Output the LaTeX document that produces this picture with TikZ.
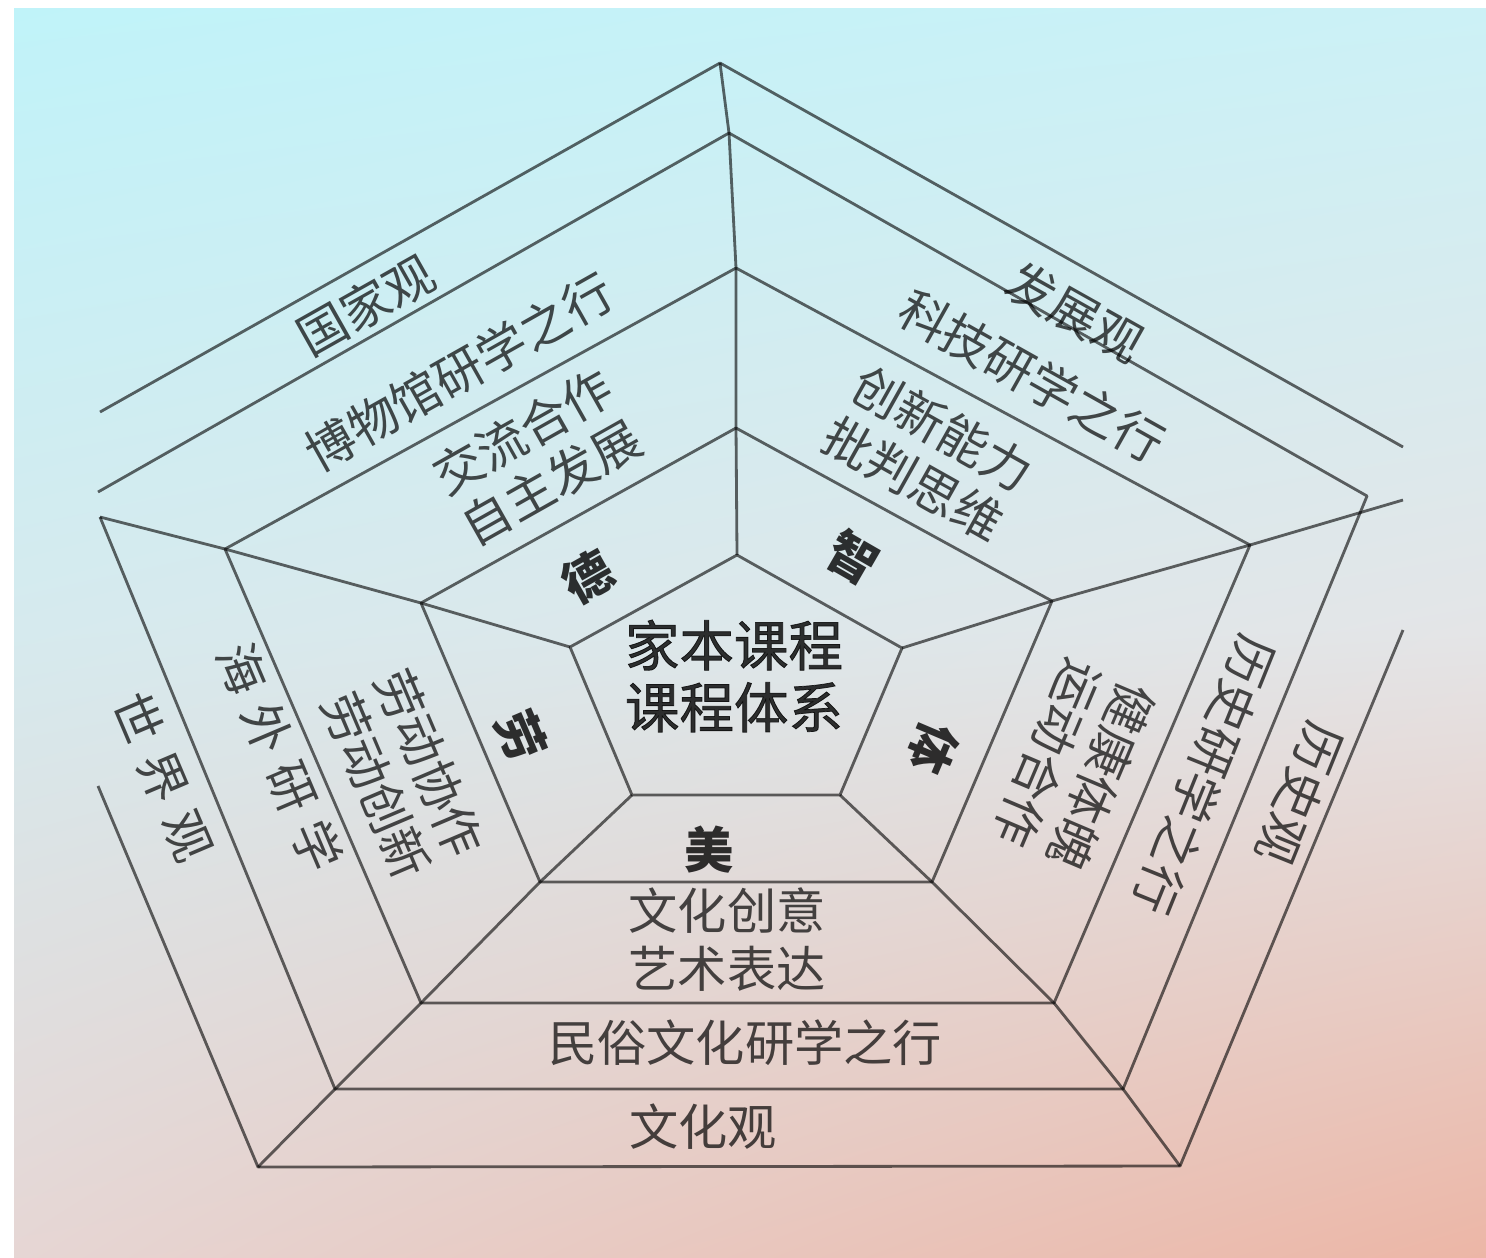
\documentclass[tikz,border=0pt]{standalone}
\usepackage{fontspec}
\usetikzlibrary{shadings}
\newfontfamily\cjk{Noto Sans CJK SC}
\newfontfamily\cjkwide{Noto Sans CJK SC}[LetterSpace=30]
\newfontfamily\cjkmed{Noto Sans CJK SC}[FakeBold=1.3]
\definecolor{bgul}{RGB}{192,243,249}
\definecolor{bgur}{RGB}{204,241,246}
\definecolor{bgml}{RGB}{214,234,238}
\definecolor{bgmr}{RGB}{228,229,231}
\definecolor{bgll}{RGB}{230,214,212}
\definecolor{bglr}{RGB}{236,182,166}

\begin{document}
\begin{tikzpicture}[x=0.01cm, y=-0.01cm,
  pline/.style={draw=black, draw opacity=0.6, line width=0.8pt, line join=round},
  lbl/.style={font=\cjk\fontsize{14pt}{16.5pt}\selectfont, text=black, text opacity=0.7, align=center, inner sep=0pt},
  widelbl/.style={lbl, font=\cjkwide\fontsize{14pt}{16.5pt}\selectfont},
  ringlbl/.style={font=\cjk\bfseries\fontsize{14pt}{16pt}\selectfont, text=black, text opacity=0.8, inner sep=0pt},
  corelbl/.style={font=\cjkmed\fontsize{15.5pt}{17.6pt}\selectfont, text=black, text opacity=0.8, align=center, inner sep=0pt}]
\useasboundingbox (0,0) rectangle (1486,1257);
\fill[white] (0,0) rectangle (1486,1257);
\shade[upper left=bgul, upper right=bgur, lower left=bgml, lower right=bgmr] (14,8) rectangle (1486,631);
\shade[upper left=bgml, upper right=bgmr, lower left=bgll, lower right=bglr] (14,630) rectangle (1486,1257);

\coordinate (k1) at (737,555);
\coordinate (k2) at (902,648);
\coordinate (k3) at (840,795);
\coordinate (k4) at (632,795);
\coordinate (k5) at (570,647);
\coordinate (r1) at (736,428);
\coordinate (r2) at (1052,601);
\coordinate (r3) at (932,882);
\coordinate (r4) at (540,882);
\coordinate (r5) at (421,603);
\coordinate (q1) at (736,268);
\coordinate (q2) at (1250,545);
\coordinate (q3) at (1054,1003);
\coordinate (q4) at (421,1003);
\coordinate (q5) at (225,549);
\coordinate (sa) at (98,492);
\coordinate (s1) at (729,133);
\coordinate (s2) at (1367,496);
\coordinate (s3) at (1123,1089);
\coordinate (s4) at (335,1089);
\coordinate (s5) at (100,517);
\coordinate (ta) at (100,412);
\coordinate (t1) at (720,63);
\coordinate (tb) at (1403,447);
\coordinate (tc) at (1403,630);
\coordinate (t3) at (1180,1166);
\coordinate (t4) at (258,1167);
\coordinate (t5) at (98,786);
\coordinate (te) at (1403,500);

\draw[pline] (k1) -- (k2) -- (k3) -- (k4) -- (k5) -- cycle;
\draw[pline] (r1) -- (r2) -- (r3) -- (r4) -- (r5) -- cycle;
\draw[pline] (q1) -- (q2) -- (q3) -- (q4) -- (q5) -- cycle;
\draw[pline] (sa) -- (s1) -- (s2) -- (s3) -- (s4) -- (s5);
\draw[pline] (ta) -- (t1) -- (tb);
\draw[pline] (tc) -- (t3) -- (t4) -- (t5);
\draw[pline] (t1) -- (s1) -- (q1) -- (r1) -- (k1);
\draw[pline] (te) -- (q2) -- (r2) -- (k2);
\draw[pline] (k3) -- (r3) -- (q3) -- (s3) -- (t3);
\draw[pline] (k4) -- (r4) -- (q4) -- (s4) -- (t4);
\draw[pline] (k5) -- (r5) -- (q5) -- (s5);

\node[corelbl] (core) at (734,676) {家本课程\\课程体系};
\node[ringlbl, rotate=29.4] (de) at (588,577) {德};
\node[ringlbl, rotate=-30] (zhi) at (853,557) {智};
\node[ringlbl, rotate=-113] (ti) at (933,748) {体};
\node[ringlbl] (mei) at (709,850) {美};
\node[ringlbl, rotate=-67] (lao) at (521,736) {劳};

\node[lbl, rotate=29.4] (jlhz) at (537,457) {交流合作\\自主发展};
\node[lbl, rotate=-29.3] (cxnl) at (928,454) {创新能力\\批判思维};
\node[lbl, rotate=-113] (jktp) at (1075,765) {健康体魄\\运动合作};
\node[lbl] (whcy) at (727,940) {文化创意\\艺术表达};
\node[lbl, rotate=-67] (ldxz) at (403,774) {劳动协作\\劳动创新};

\node[lbl, rotate=29.4] (bwg) at (459,372) {博物馆研学之行};
\node[lbl, rotate=-29.3] (kjyx) at (1032,376) {科技研学之行};
\node[lbl, rotate=-112] (lsyx) at (1205,775) {历史研学之行};
\node[lbl] (msyx) at (745,1043) {民俗文化研学之行};
\node[widelbl, rotate=-67] (hwyx) at (280,757) {海外研学};

\node[lbl, rotate=29.4] (gjg) at (366,305) {国家观};
\node[lbl, rotate=-29.3] (fzg) at (1075,312) {发展观};
\node[lbl, rotate=-112] (lsg) at (1300,794) {历史观};
\node[lbl] (whg) at (703,1127) {文化观};
\node[widelbl, rotate=-67] (sjg) at (163,777) {世界观};
\end{tikzpicture}
\end{document}
